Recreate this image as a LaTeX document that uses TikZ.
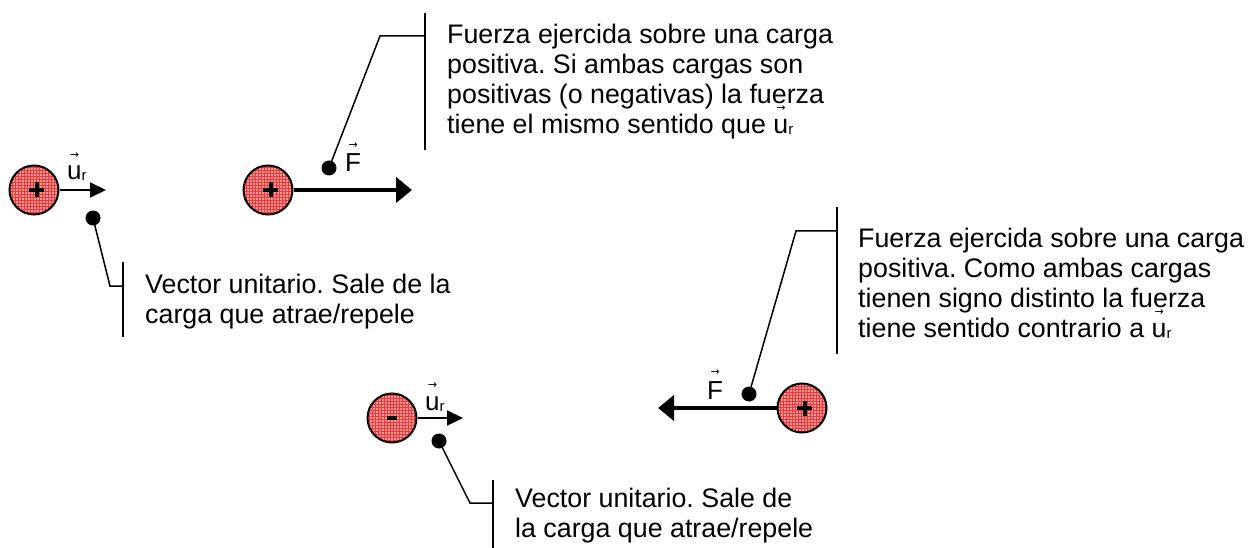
\documentclass[tikz,border=0pt]{standalone}
\usepackage{fontspec}
\setmainfont{Liberation Sans}
\newfontfamily\arrowfont{DejaVu Sans}
\usetikzlibrary{arrows.meta,patterns}

\definecolor{chargefill}{RGB}{250,150,150}
\definecolor{chargegrid}{RGB}{232,60,60}
\newcommand{\vecover}[2][0.82em]{\leavevmode\setbox0\hbox{#2}\rlap{\hbox to\wd0{\hss\raisebox{#1}[0pt][0pt]{\arrowfont\fontsize{11}{11}\selectfont →}\hss}}\box0}
\newcommand{\rsub}[1]{\raisebox{-1pt}{\fontsize{15}{15}\selectfont #1}}
\newcommand{\uvec}{\vecover{u}\rsub{r}}
\newcommand{\possign}{\rlap{\rule[5.5pt]{15pt}{4pt}}\hspace{5.5pt}\rule{4pt}{15pt}\hspace{5.5pt}}
\newcommand{\negsign}{\rule{10pt}{4pt}}
\frenchspacing

\begin{document}
\begin{tikzpicture}[x=1pt,y=-1pt,
    charge/.style={circle,draw,line width=2pt,minimum size=49pt,inner sep=0pt,
      preaction={fill=chargefill},pattern=grid,pattern color=chargegrid},
    dot/.style={circle,fill,inner sep=0pt,minimum size=15pt},
    unitvec/.style={line width=2pt,-{Triangle[length=16pt,width=15pt]}},
    force/.style={line width=4pt,-{Triangle[length=16pt,width=25pt]}},
    leader/.style={line width=1.5pt},
    bar/.style={line width=2pt},
    note/.style={anchor=north west,align=left,inner sep=0pt,font=\fontsize{26.8}{30}\selectfont},
    lbl/.style={anchor=base west,inner sep=0pt,font=\fontsize{26}{30}\selectfont}]
  \useasboundingbox (0,0) rectangle (1250,548);

  % charges
  \node[charge] (q1) at (34,190) {\possign};
  \node[charge] (q2) at (268,190) {\possign};
  \node[charge] (q3) at (802,408) {\possign};
  \node[charge] (q4) at (392,418) {\negsign};

  \coordinate (u1) at (106,190);
  \coordinate (f2) at (412,190);
  \coordinate (f3) at (658,408);
  \coordinate (u4) at (463,418);
  \draw[unitvec] (q1.east) -- (u1);
  \draw[force] (q2.east) -- (f2);
  \draw[force] (q3.west) -- (f3);
  \draw[unitvec] (q4.east) -- (u4);

  \node[lbl] (l1) at (67,180) {\uvec};
  \node[lbl] (l2) at (345,172) {\vecover[0.9em]{F}};
  \node[lbl] (l3) at (707,399) {\vecover[0.9em]{F}};
  \node[lbl] (l4) at (425,410) {\uvec};

  % callouts
  \node[dot] (d1) at (93,218) {};
  \node[dot] (d2) at (329,168) {};
  \node[dot] (d3) at (749,394) {};
  \node[dot] (d4) at (439,441) {};

  \coordinate (k1) at (110,286); \coordinate (b1) at (123,286);
  \coordinate (k2) at (380,36);  \coordinate (b2) at (425,36);
  \coordinate (k3) at (796,231); \coordinate (b3) at (837,231);
  \coordinate (k4) at (470,503); \coordinate (b4) at (493,503);
  \draw[leader] (d1.center) -- (k1) -- (b1);
  \draw[leader] (d2.center) -- (k2) -- (b2);
  \draw[leader] (d3.center) -- (k3) -- (b3);
  \draw[leader] (d4.center) -- (k4) -- (b4);

  \draw[bar] (123,262) -- (123,337);
  \draw[bar] (425,13) -- (425,150);
  \draw[bar] (837,207) -- (837,354);
  \draw[bar] (493,480) -- (493,548);

  \node[note] (t1) at (447,24) {Fuerza ejercida sobre una carga\\positiva. Si ambas cargas son\\positivas (o negativas) la fuerza\\tiene el mismo sentido que \uvec};
  \node[note] (t2) at (858,228) {Fuerza ejercida sobre una carga\\positiva. Como ambas cargas\\tienen signo distinto la fuerza\\tiene sentido contrario a \uvec};
  \node[note] (t3) at (145,274) {Vector unitario. Sale de la\\carga que atrae/repele};
  \node[note] (t4) at (515,488) {Vector unitario. Sale de\\la carga que atrae/repele};
\end{tikzpicture}
\end{document}
